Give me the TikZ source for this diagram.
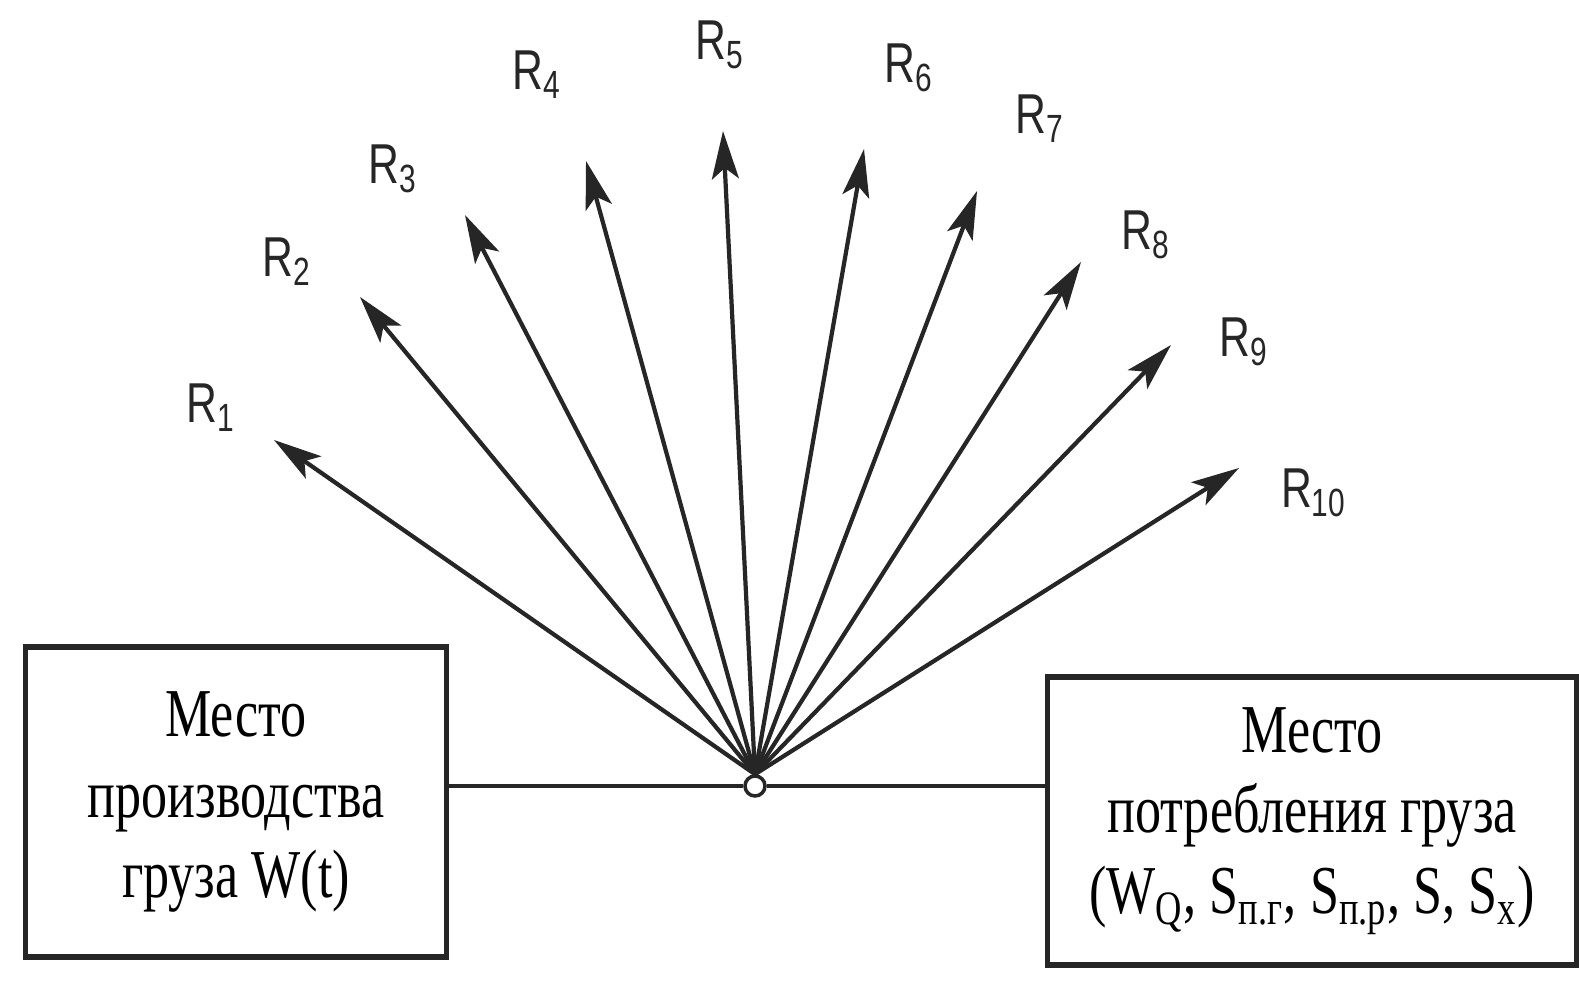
\documentclass[tikz,border=0pt]{standalone}
\usepackage{fontspec}
\setmainfont[FakeStretch=0.76]{Liberation Serif}
\newfontfamily\rfont[FakeStretch=0.76]{Liberation Sans}
\usetikzlibrary{arrows.meta}

\begin{document}
\begin{tikzpicture}[every node/.style={inner sep=0pt},
  place/.style={draw=black!85,line width=1.5pt,align=center,font=\fontsize{19.5}{23}\selectfont},
  rlab/.style={font=\rfont\fontsize{16}{18}\selectfont,text=black!85},
  ray/.style={draw=black!85,fill=black!85,line width=1.2pt,-{Stealth[length=4.8mm,width=2.7mm,inset=1.1mm]}}]
\useasboundingbox (0,0) rectangle (15.79,9.96);
% boxes
\node[place,minimum width=4.21cm,minimum height=3.1cm] (prod) at (2.36,1.94)
  {Место\\производства\\груза W(t)};
\node[place,minimum width=5.29cm,minimum height=2.88cm] (cons) at (13.12,1.75)
  {Место\\потребления груза\\(W\textsubscript{Q}, S\textsubscript{п.г}, S\textsubscript{п.р}, S, S\textsubscript{x})};
% hub
\node[circle,draw=black!85,line width=1pt,minimum size=2mm] (hub) at (7.55,2.1) {};
\draw[line width=1.4pt,black!85] (hub) -- (prod.east |- hub);
\draw[line width=1.4pt,black!85] (hub) -- (cons.west |- hub);
% arrow tips
\coordinate (t1) at (2.74,5.56);  \coordinate (t2) at (3.60,6.99);
\coordinate (t3) at (4.65,7.81);  \coordinate (t4) at (5.86,8.35);
\coordinate (t5) at (7.23,8.65);  \coordinate (t6) at (8.64,8.47);
\coordinate (t7) at (9.77,8.05);  \coordinate (t8) at (10.81,7.34);
\coordinate (t9) at (11.71,6.51); \coordinate (t10) at (12.39,5.28);
% labels
\node[rlab] (r1) at (2.11,5.88) {R\textsubscript{1}};
\node[rlab] (r2) at (2.87,7.34) {R\textsubscript{2}};
\node[rlab] (r3) at (3.93,8.27) {R\textsubscript{3}};
\node[rlab] (r4) at (5.37,9.21) {R\textsubscript{4}};
\node[rlab] (r5) at (7.20,9.51) {R\textsubscript{5}};
\node[rlab] (r6) at (9.09,9.28) {R\textsubscript{6}};
\node[rlab] (r7) at (10.40,8.77) {R\textsubscript{7}};
\node[rlab] (r8) at (11.46,7.61) {R\textsubscript{8}};
\node[rlab] (r9) at (12.44,6.54) {R\textsubscript{9}};
\node[rlab] (r10) at (13.14,5.03) {R\textsubscript{10}};
% rays
\draw[ray] (hub.north) -- (t1); \draw[ray] (hub.north) -- (t2);
\draw[ray] (hub.north) -- (t3); \draw[ray] (hub.north) -- (t4);
\draw[ray] (hub.north) -- (t5); \draw[ray] (hub.north) -- (t6);
\draw[ray] (hub.north) -- (t7); \draw[ray] (hub.north) -- (t8);
\draw[ray] (hub.north) -- (t9); \draw[ray] (hub.north) -- (t10);
\end{tikzpicture}
\end{document}
